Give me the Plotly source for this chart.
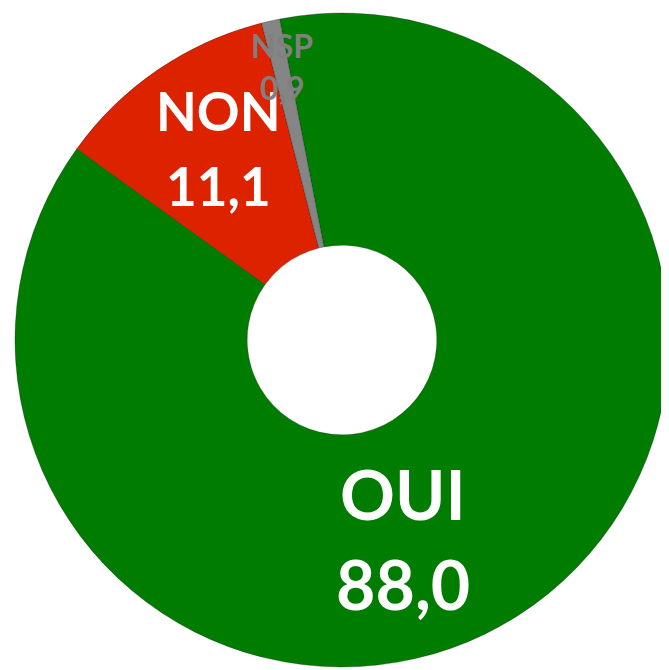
import plotly.graph_objects as go

labels = ["OUI", "NON", "NSP"]
values = [88.0, 11.1, 0.9]
colors = ["#007d00", "#dd2200", "#858585"]
text_colors = ["white", "white", "#808080"]

W, H = 669, 670
OFF = 8  # default body margin of the html page shifts the figure

fig = go.Figure(go.Pie(
    labels=labels,
    values=values,
    hole=0.29,
    sort=False,
    direction="clockwise",
    rotation=-11,
    marker=dict(colors=colors, line=dict(color="rgba(0,0,0,0.25)", width=1)),
    textinfo="none",
    hoverinfo="label+value",
    showlegend=False,
    domain=dict(x=[(15 - OFF) / W, (669 - OFF) / W],
                y=[(H - 667 + OFF) / H, (H - 13 + OFF) / H]),
))

# label positions (pixel centres of each text line) and font sizes
label_pos = {"OUI": (403, 497, 587, 68), "NON": (218, 113, 188, 53), "NSP": (282, 47, 89, 32)}

for lab, val, col in zip(labels, values, text_colors):
    x, y1, y2, size = label_pos[lab]
    for txt, y in ((lab, y1), (f"{val:.1f}".replace(".", ","), y2)):
        fig.add_annotation(
            x=(x - OFF) / W, y=1 - (y - OFF - size * 0.05) / H,
            xref="paper", yref="paper",
            text=f"<b>{txt}</b>", showarrow=False,
            xanchor="center", yanchor="middle",
            font=dict(family="Lato", size=size, color=col),
        )

fig.update_layout(
    width=W, height=H,
    margin=dict(l=0, r=0, t=0, b=0),
    paper_bgcolor="white",
    plot_bgcolor="white",
)

fig.write_html("out.html")
